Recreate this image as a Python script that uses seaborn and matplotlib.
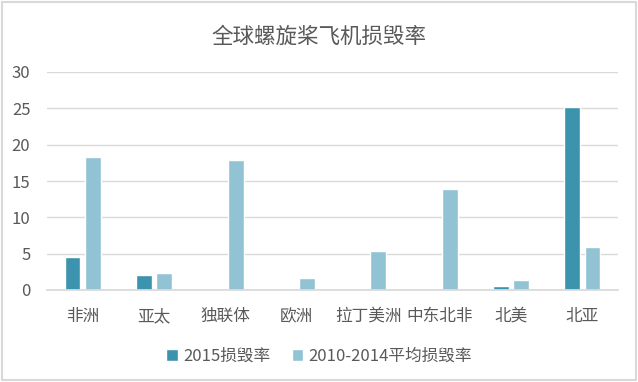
import pandas as pd
import seaborn as sns
import matplotlib.pyplot as plt
from matplotlib.patches import Rectangle

# data
regions = ['非洲', '亚太', '独联体', '欧洲', '拉丁美洲', '中东北非', '北美', '北亚']
rate_2015 = [4.5, 2.1, 0, 0, 0, 0, 0.5, 25.2]
rate_avg = [18.3, 2.3, 17.9, 1.7, 5.4, 13.9, 1.4, 5.9]
series_names = ['2015损毁率', '2010-2014平均损毁率']
colors = ['#3b93ad', '#92c3d5']

df = pd.DataFrame({
    '地区': regions * 2,
    '损毁率': rate_2015 + rate_avg,
    '系列': [series_names[0]] * len(regions) + [series_names[1]] * len(regions),
})

sns.set_theme(style='white')
plt.rcParams['font.family'] = ['Noto Sans CJK SC', 'DejaVu Sans']
text_color = '#595959'

fig = plt.figure(figsize=(6.38, 3.82), dpi=100)
ax = fig.add_axes([47 / 638, 1 - 290 / 382, 571 / 638, 218 / 382])

sns.barplot(data=df, x='地区', y='损毁率', hue='系列', palette=colors,
            width=0.57, gap=0.22, saturation=1, ax=ax, legend=True)

ax.set_xlim(-0.5, 7.5)
ax.set_ylim(0, 30)
ax.set_yticks(range(0, 31, 5))
ax.yaxis.grid(True, color='#d9d9d9', linewidth=1)
ax.set_axisbelow(True)
for s in ['top', 'right', 'left']:
    ax.spines[s].set_visible(False)
ax.spines['bottom'].set_color('#d9d9d9')
ax.tick_params(axis='both', length=0, colors=text_color, labelsize=12)
ax.tick_params(axis='x', pad=13)
ax.tick_params(axis='y', pad=12)
ax.set_xlabel('')
ax.set_ylabel('')

handles, labels = ax.get_legend_handles_labels()
ax.legend_.remove()
fig.legend(handles, labels, loc='center', bbox_to_anchor=(0.5, 1 - 356 / 382),
           ncol=2, frameon=False, fontsize=12, labelcolor=text_color,
           handlelength=0.7, handleheight=0.7, handletextpad=0.3, columnspacing=1.3)

fig.text(0.5, 1 - 37 / 382, '全球螺旋桨飞机损毁率', ha='center', va='center',
         fontsize=15.5, color=text_color)

fig.patches.append(Rectangle((0.003, 0.004), 0.994, 0.992, transform=fig.transFigure,
                             fill=False, edgecolor='#d9d9d9', linewidth=1.5))

fig.savefig('out.png', dpi=100)
